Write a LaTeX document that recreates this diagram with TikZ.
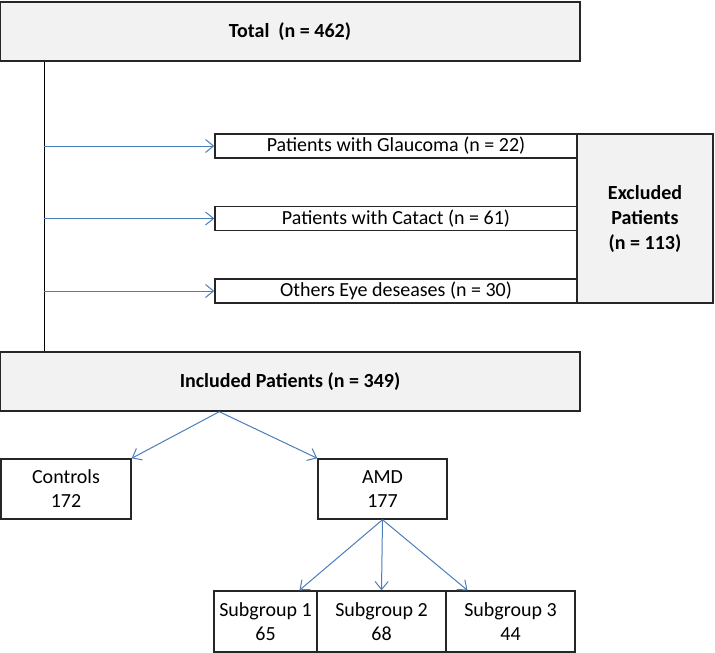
\documentclass[tikz,border=0pt]{standalone}
\usepackage{fontspec}
\setmainfont{Carlito}
\usetikzlibrary{arrows.meta,calc}
\definecolor{boxgray}{HTML}{F2F2F2}
\definecolor{flowblue}{HTML}{4A7EBB}
\begin{document}
\begin{tikzpicture}[x=1pt,y=-1pt,
  box/.style={draw=black!85,line width=1.4pt,inner sep=0pt,align=center,font=\fontsize{20}{24}\selectfont},
  graybox/.style={box,fill=boxgray,font=\fontsize{20}{25}\selectfont\bfseries},
  flow/.style={draw=flowblue,line width=1pt,-{Straight Barb[length=8pt,width=13pt]}}]
\useasboundingbox (0,0) rectangle (715,653);
\node[graybox,minimum width=580pt,minimum height=59pt] (total) at (290,31.5) {Total\ \ (n = 462)};
\node[box,minimum width=362pt,minimum height=24pt] (glaucoma) at (396,146) {Patients with Glaucoma (n = 22)};
\node[box,minimum width=362pt,minimum height=24pt] (catact) at (396,218.5) {Patients with Catact (n = 61)};
\node[box,minimum width=362pt,minimum height=24pt] (others) at (396,291) {Others Eye deseases (n = 30)};
\node[graybox,minimum width=136pt,minimum height=169pt] (excluded) at (645,218.5) {Excluded\\Patients\\(n = 113)};
\node[graybox,minimum width=580pt,minimum height=59pt] (included) at (290,381.5) {Included Patients (n = 349)};
\node[box,minimum width=130pt,minimum height=60pt] (controls) at (66,489) {Controls\\172};
\node[box,minimum width=129pt,minimum height=60pt] (amd) at (382.5,489) {AMD\\177};
\node[box,minimum width=103pt,minimum height=61pt] (sub1) at (265.5,621.5) {Subgroup 1\\65};
\node[box,minimum width=129pt,minimum height=61pt] (sub2) at (381.5,621.5) {Subgroup 2\\68};
\node[box,minimum width=129pt,minimum height=61pt] (sub3) at (510.5,621.5) {Subgroup 3\\44};

\coordinate (trunk) at ($(total.south west)+(45,0)$);
\coordinate (split) at ($(included.south west)+(220,0)$);
\draw[line width=1pt] (trunk)--(trunk |- included.north);
\draw[flow] (trunk |- glaucoma.west)--(glaucoma.west);
\draw[flow] (trunk |- catact.west)--(catact.west);
\draw[flow] (trunk |- others.west)--(others.west);
\draw[flow] (split)--(controls.north east);
\draw[flow] (split)--(amd.north west);
\draw[flow] (amd.south)--($(sub1.north)!0.65!(sub1.north east)$);
\draw[flow] (amd.south)--(sub2.north);
\draw[flow] (amd.south)--($(sub3.north)!0.66!(sub3.north west)$);
\end{tikzpicture}
\end{document}
